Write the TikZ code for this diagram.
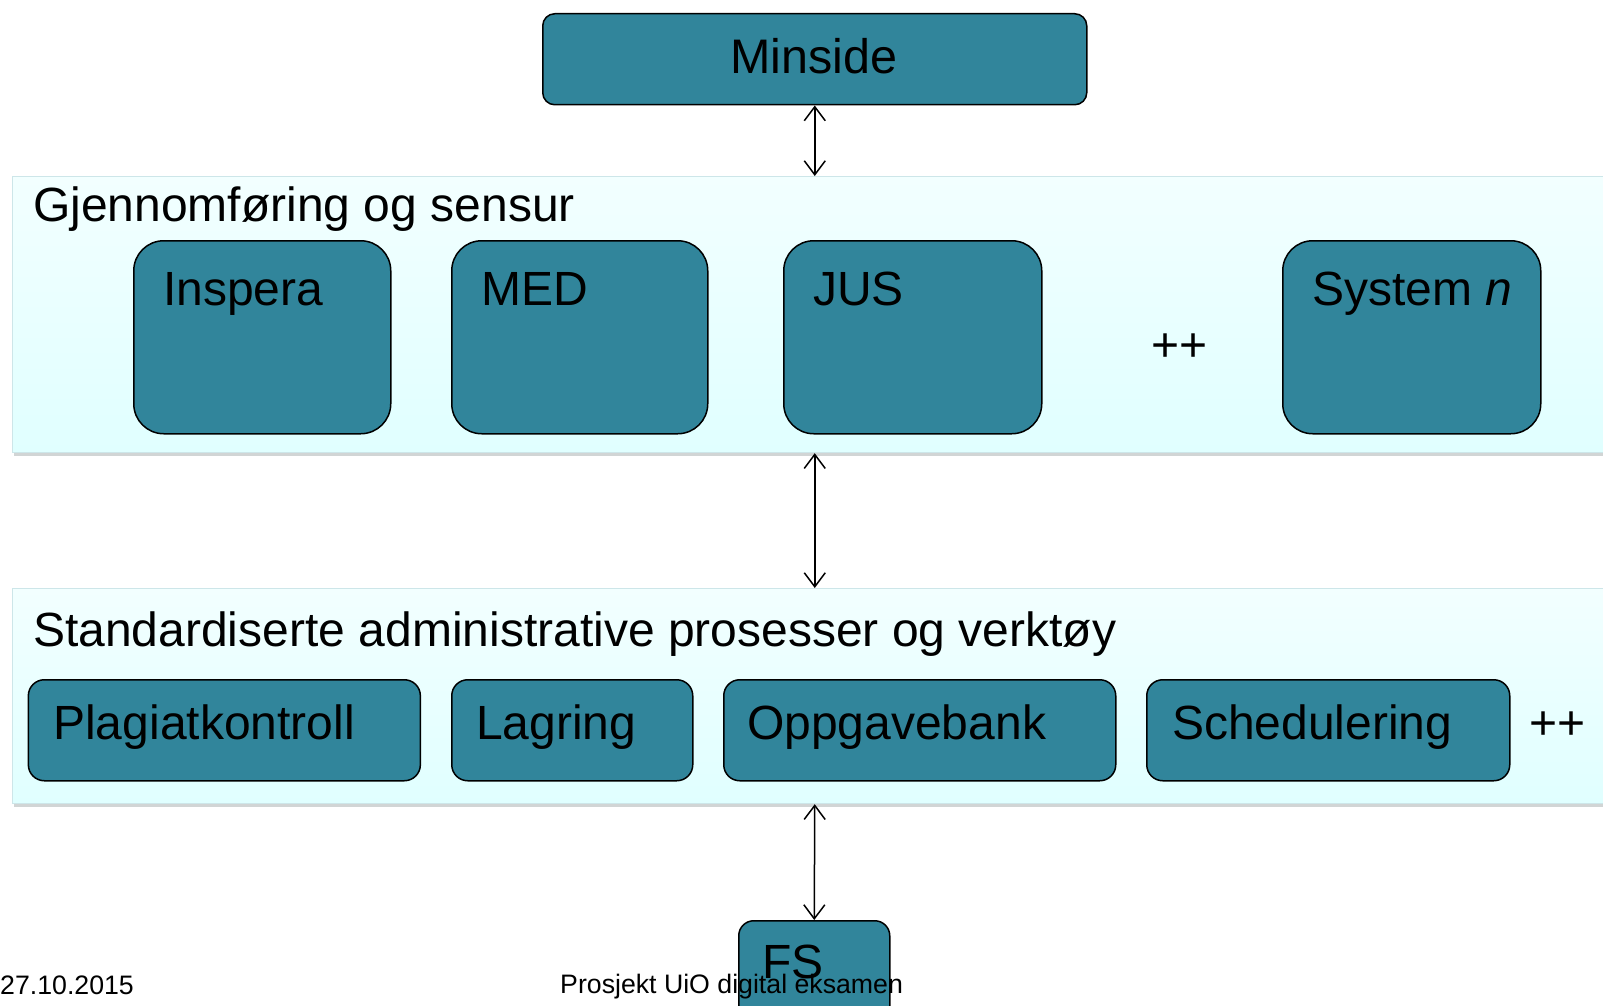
\documentclass[tikz,border=0pt]{standalone}
\usepackage{fontspec}
\setmainfont{Liberation Sans}
\usetikzlibrary{arrows.meta}
\definecolor{boxfill}{RGB}{49,133,155}
\definecolor{paneltop}{RGB}{242,255,255}
\definecolor{panelbot}{RGB}{224,255,255}
\definecolor{panelline}{RGB}{205,230,233}
\definecolor{shadowc}{RGB}{190,196,196}
\begin{document}
\begin{tikzpicture}[x=1pt,y=-1pt,
  box/.style={draw=black, line width=1.5pt, fill=boxfill, inner sep=0pt, anchor=north west},
  bigbox/.style={box, rounded corners=30pt, minimum height=193pt},
  smallbox/.style={box, rounded corners=16pt, minimum height=101pt},
  panel/.style={draw=panelline, line width=1.2pt, top color=paneltop, bottom color=panelbot, inner sep=0pt, anchor=north west, minimum width=1610pt},
  shadowbox/.style={fill=shadowc, opacity=0.7, inner sep=0pt, anchor=north west, minimum width=1610pt},
  lbl/.style={anchor=base west, inner sep=0pt, font=\fontsize{48}{58}\selectfont},
  foot/.style={anchor=base west, inner sep=0pt, font=\fontsize{26.7}{32}\selectfont},
  link/.style={line width=1.5pt, {Straight Barb[length=14pt,width=21pt]}-{Straight Barb[length=14pt,width=21pt]}},
]
\useasboundingbox (0,0) rectangle (1603,1006);
\clip (0,0) rectangle (1603,1006);
\fill[white] (0,0) rectangle (1603,1006);

% panels
\node[shadowbox, minimum height=276pt] (sh1) at (14,180) {};
\node[panel, minimum height=276pt] (panel1) at (12,176) {};
\node[shadowbox, minimum height=215pt] (sh2) at (14,592) {};
\node[panel, minimum height=215pt] (panel2) at (12,588) {};

% top box
\node[box, rounded corners=12pt, minimum width=544pt, minimum height=91pt] (minside) at (542,13) {};
\node[lbl, anchor=base, font=\fontsize{48.5}{58}\selectfont] (minside-t) at (814,74) {Minside};

% panel 1 content
\node[lbl] (title1) at (33,221) {Gjennomføring og sensur};
\node[bigbox, minimum width=257pt] (inspera) at (133,240) {};
\node[bigbox, minimum width=256pt] (med) at (451,240) {};
\node[bigbox, minimum width=258pt] (jus) at (783,240) {};
\node[bigbox, minimum width=258pt] (sysn) at (1282,240) {};
\node[lbl] (inspera-t) at ([xshift=30pt,yshift=-65.7pt]inspera.north west) {Inspera};
\node[lbl] (med-t) at ([xshift=30pt,yshift=-65.7pt]med.north west) {MED};
\node[lbl] (jus-t) at ([xshift=30pt,yshift=-65.7pt]jus.north west) {JUS};
\node[lbl] (sysn-t) at ([xshift=30pt,yshift=-65.7pt]sysn.north west) {System \textit{n}};
\node[lbl] (plus1) at (1151,361.5) {++};

% panel 2 content
\node[lbl] (title2) at (33,646) {Standardiserte administrative prosesser og verktøy};
\node[smallbox, minimum width=392pt] (plagiat) at (27.6,679) {};
\node[smallbox, minimum width=241pt] (lagring) at (451,679) {};
\node[smallbox, minimum width=392pt] (oppg) at (723,679) {};
\node[smallbox, minimum width=363pt] (sched) at (1146,679) {};
\node[lbl] (plagiat-t) at ([xshift=25.5pt,yshift=-60pt]plagiat.north west) {Plagiatkontroll};
\node[lbl] (lagring-t) at ([xshift=25pt,yshift=-60pt]lagring.north west) {Lagring};
\node[lbl] (oppg-t) at ([xshift=24pt,yshift=-60pt]oppg.north west) {Oppgavebank};
\node[lbl] (sched-t) at ([xshift=26pt,yshift=-60pt]sched.north west) {Schedulering};
\node[lbl] (plus2) at (1529,739.5) {++};

% FS
\node[box, rounded corners=15pt, minimum width=151pt, minimum height=120pt] (fs) at (738,920) {};
\node[lbl] (fs-t) at ([xshift=24pt,yshift=-58pt]fs.north west) {FS};

% connectors
\draw[link] (minside.south) -- (minside.south |- panel1.north);
\draw[link] (minside.south |- panel1.south) -- (minside.south |- panel2.north);
\draw[link] (minside.south |- panel2.south) -- (fs.north);

% footer
\node[foot] (date) at (0,994) {27.10.2015};
\node[foot] (proj) at (560,993) {Prosjekt UiO digital eksamen};
\end{tikzpicture}
\end{document}
